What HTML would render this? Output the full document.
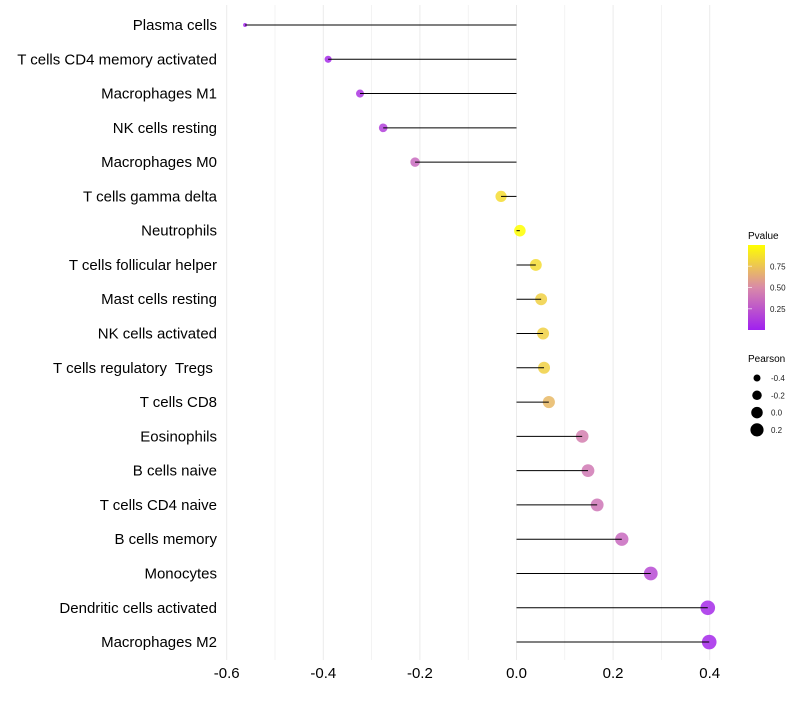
<!DOCTYPE html>
<html><head><meta charset="utf-8"><style>
body{margin:0;background:#fff;font-family:"Liberation Sans",sans-serif}
svg text{font-family:"Liberation Sans",sans-serif;white-space:pre}
</style></head><body>
<svg id="chart" width="800" height="700" viewBox="0 0 800 700">
<defs><linearGradient id="pg" x1="0" y1="1" x2="0" y2="0">
<stop offset="0" stop-color="#a020f0"/><stop offset="0.5" stop-color="#d98aa8"/><stop offset="1" stop-color="#ffff00"/>
</linearGradient></defs>
<g id="grid"></g>
<g id="marks"></g>
<g id="yaxis"></g>
<g id="xaxis"></g>
<g>
<text x="748" y="239" font-size="10">Pvalue</text>
<rect x="748" y="245" width="17" height="85" fill="url(#pg)"/>
<g id="cbticks"></g>
</g>
<g id="sizelegend">
<text x="748" y="362" font-size="10">Pearson</text>
</g>
</svg>
<script>
const categories=["Plasma cells","T cells CD4 memory activated","Macrophages M1","NK cells resting","Macrophages M0","T cells gamma delta","Neutrophils","T cells follicular helper","Mast cells resting","NK cells activated","T cells regulatory  Tregs ","T cells CD8","Eosinophils","B cells naive","T cells CD4 naive","B cells memory","Monocytes","Dendritic cells activated","Macrophages M2"];
const pearson=[-0.562,-0.39,-0.324,-0.276,-0.21,-0.032,0.007,0.04,0.051,0.055,0.057,0.067,0.136,0.148,0.167,0.218,0.278,0.396,0.399];
const pvalue=[0.03,0.05,0.1,0.15,0.35,0.85,1.0,0.85,0.8,0.8,0.8,0.7,0.45,0.42,0.4,0.35,0.2,0.05,0.04];
const xTicks=[-0.6,-0.4,-0.2,0.0,0.2,0.4];
const xTickLabels=["-0.6","-0.4","-0.2","0.0","0.2","0.4"];
const cbTicks=[0.25,0.5,0.75];
const sizeLegend=[-0.4,-0.2,0.0,0.2];
const NS="http://www.w3.org/2000/svg";
function mk(t,a,p){const e=document.createElementNS(NS,t);for(const k in a)e.setAttribute(k,a[k]);p.appendChild(e);return e;}
const X=v=>516.5+v*483;
const Y=i=>25+i*34.28;
const R=v=>Math.sqrt(Math.max(1.5,33+52*v));
function col(p){const s=[[160,32,240],[217,138,168],[255,255,0]];let a,b,t;if(p<0.5){a=s[0];b=s[1];t=p/0.5}else{a=s[1];b=s[2];t=(p-0.5)/0.5}return `rgb(${a.map((c,i)=>Math.round(c+(b[i]-c)*t)).join(",")})`;}
const grid=document.getElementById('grid'),marks=document.getElementById('marks'),ya=document.getElementById('yaxis'),xa=document.getElementById('xaxis');
for(let v=-0.6;v<=0.41;v+=0.1){const g=mk('line',{x1:X(v),x2:X(v),y1:5,y2:660,stroke:'#ebebeb','stroke-width':Math.abs(Math.round(v*10))%2==0?1:0.6},grid);

}
categories.forEach((c,i)=>{
const pt=mk('circle',{cx:X(pearson[i]),cy:Y(i),r:R(pearson[i]),fill:col(pvalue[i]),'fill-opacity':0.85},marks);


const ln=mk('line',{x1:X(0),x2:X(pearson[i]),y1:Y(i),y2:Y(i),stroke:'#000','stroke-width':1},marks);


const t=mk('text',{x:217,y:Y(i)+5,'text-anchor':'end','font-size':15,fill:'#000'},ya);t.textContent=c;


});
xTicks.forEach((v,i)=>{const t=mk('text',{x:X(v),y:678,'text-anchor':'middle','font-size':15,fill:'#000'},xa);t.textContent=xTickLabels[i];

});
const cb=document.getElementById('cbticks');
cbTicks.forEach(v=>{const y=330-v*85;
const l=mk('line',{x1:748,x2:752,y1:y,y2:y,stroke:'#fff','stroke-opacity':0.6},cb);
const t=mk('text',{x:770,y:y+3,'font-size':8,fill:'#1a1a1a'},cb);t.textContent=v.toFixed(2);

});
const sl=document.getElementById('sizelegend');
sizeLegend.forEach((v,i)=>{const y=378+i*17.3;
const c=mk('circle',{cx:757,cy:y,r:R(v),fill:'#000'},sl);
const t=mk('text',{x:771,y:y+3,'font-size':8,fill:'#1a1a1a'},sl);t.textContent=v.toFixed(1);

});
</script>
</body></html>
